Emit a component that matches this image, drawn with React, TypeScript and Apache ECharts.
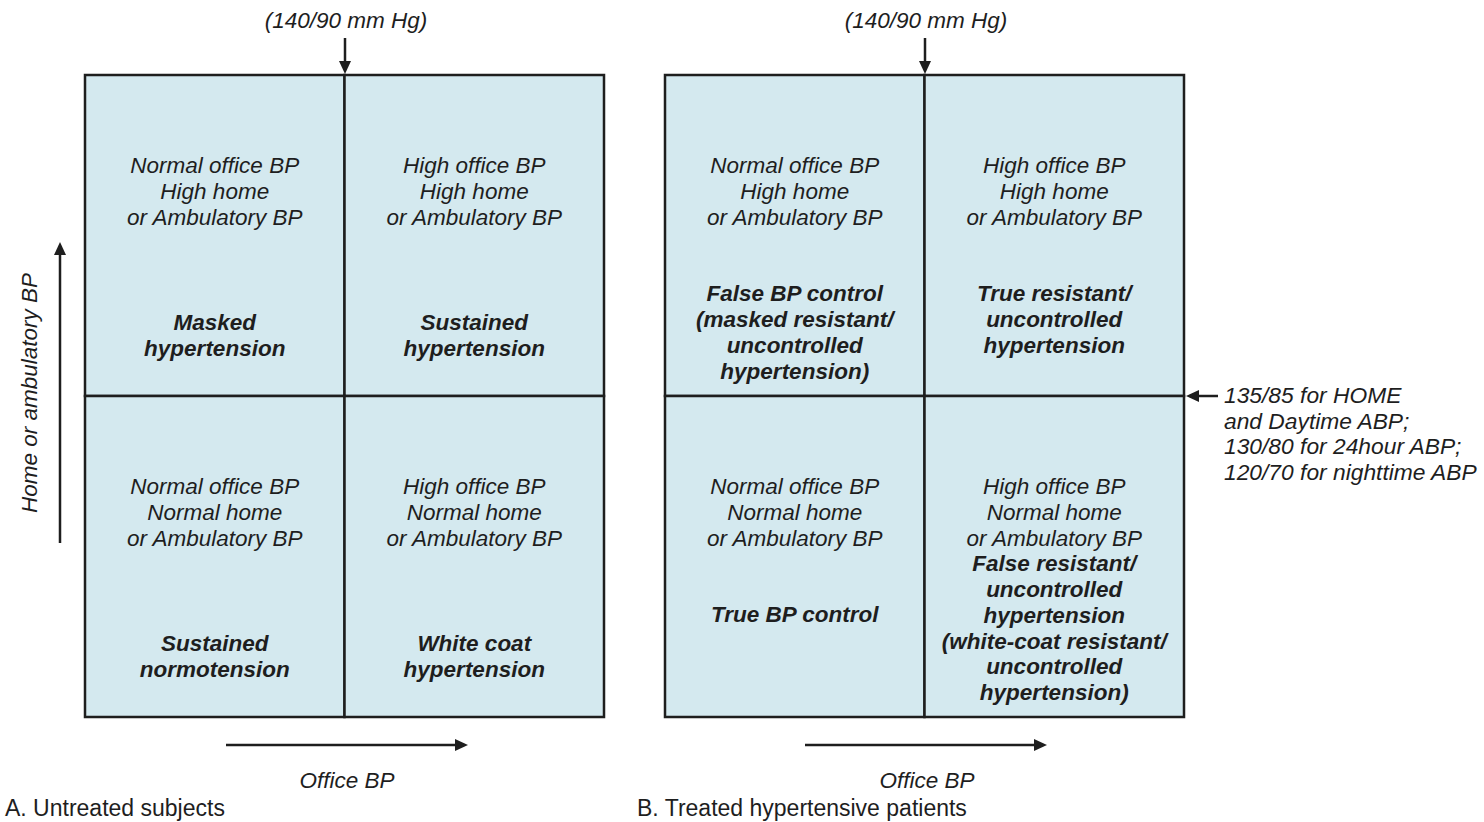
import React, { useEffect, useRef } from "react";
import * as echarts from "echarts";

// Quadrant layout (column 0 = normal office BP, row 1 = high home/ambulatory BP)
const quadrantCols = [0, 1, 0, 1];
const quadrantRows = [1, 1, 0, 0];

const descA = [
  ["Normal office BP", "High home", "or Ambulatory BP"],
  ["High office BP", "High home", "or Ambulatory BP"],
  ["Normal office BP", "Normal home", "or Ambulatory BP"],
  ["High office BP", "Normal home", "or Ambulatory BP"],
];
const labelsA = [
  ["Masked", "hypertension"],
  ["Sustained", "hypertension"],
  ["Sustained", "normotension"],
  ["White coat", "hypertension"],
];
const descB = descA;
const labelsB = [
  ["False BP control", "(masked resistant/", "uncontrolled", "hypertension)"],
  ["True resistant/", "uncontrolled", "hypertension"],
  ["True BP control"],
  [
    "False resistant/",
    "uncontrolled",
    "hypertension",
    "(white-coat resistant/",
    "uncontrolled",
    "hypertension)",
  ],
];

const officeThreshold = "(140/90 mm Hg)";
const outOfOfficeThreshold = [
  "135/85 for HOME",
  "and Daytime ABP;",
  "130/80 for 24hour ABP;",
  "120/70 for nighttime ABP",
];
const xAxisTitle = "Office BP";
const yAxisTitle = "Home or ambulatory BP";
const panelTitles = ["A. Untreated subjects", "B. Treated hypertensive patients"];

// layout only (first bold line offset from the cell top, px)
const boldOffsetA = [248, 248, 248, 248];
const boldOffsetB = [219, 219, 219, 168];

const FONT = "'Liberation Sans', Arial, Helvetica, sans-serif";
const INK = "#1e1e1e";
const FILL = "#d4e9ef";
const LH = 25.7;
const FS = 22.5;

function makeRender(desc: string[][], labels: string[][], boldOff: number[]) {
  return (params: any, api: any) => {
    const col = api.value(0);
    const row = api.value(1);
    const tl = api.coord([col, row + 1]);
    const sz = api.size([1, 1]);
    const i = params.dataIndex;
    const cx = tl[0] + sz[0] / 2;
    return {
      type: "group",
      children: [
        {
          type: "rect",
          shape: { x: tl[0], y: tl[1], width: sz[0], height: sz[1] },
          style: { fill: FILL, stroke: INK, lineWidth: 2.5 },
        },
        {
          type: "text",
          x: cx,
          y: tl[1] + 91 - LH / 2,
          style: {
            text: desc[i].join("\n"),
            fontFamily: FONT,
            fontSize: FS,
            fontStyle: "italic",
            fill: INK,
            align: "center",
            verticalAlign: "top",
            lineHeight: LH,
          },
        },
        {
          type: "text",
          x: cx,
          y: tl[1] + boldOff[i] - LH / 2,
          style: {
            text: labels[i].join("\n"),
            fontFamily: FONT,
            fontSize: FS,
            fontStyle: "italic",
            fontWeight: "bold",
            fill: INK,
            align: "center",
            verticalAlign: "top",
            lineHeight: LH,
          },
        },
      ],
    };
  };
}

function arrowLine(x1: number, y1: number, x2: number, y2: number) {
  const dx = x2 - x1;
  const dy = y2 - y1;
  const len = Math.sqrt(dx * dx + dy * dy);
  const ux = dx / len;
  const uy = dy / len;
  const headL = 13;
  const headW = 6;
  const bx = x2 - ux * headL;
  const by = y2 - uy * headL;
  return [
    {
      type: "line",
      shape: { x1, y1, x2: bx + ux * 2, y2: by + uy * 2 },
      style: { stroke: INK, lineWidth: 2.5 },
    },
    {
      type: "polygon",
      shape: {
        points: [
          [x2, y2],
          [bx - uy * headW, by + ux * headW],
          [bx + uy * headW, by - ux * headW],
        ],
      },
      style: { fill: INK },
    },
  ];
}

function txt(text: string, x: number, y: number, extra: any = {}) {
  return {
    type: "text",
    x,
    y,
    style: {
      text,
      fontFamily: FONT,
      fontSize: FS,
      fontStyle: "italic",
      fill: INK,
      align: "center",
      verticalAlign: "middle",
      ...extra,
    },
  };
}

export default function App() {
  const ref = useRef<HTMLDivElement>(null);
  useEffect(() => {
    if (!ref.current) return;
    const chart = echarts.init(ref.current, null, { renderer: "svg" });
    const graphics: any[] = [
      txt(officeThreshold, 346, 20),
      txt(officeThreshold, 926, 20),
      ...arrowLine(345, 38, 345, 74),
      ...arrowLine(925, 38, 925, 74),
      ...arrowLine(60, 543, 60, 242),
      {
        type: "text",
        x: 29,
        y: 393,
        rotation: Math.PI / 2,
        style: {
          text: yAxisTitle,
          fontFamily: FONT,
          fontSize: FS,
          fontStyle: "italic",
          fill: INK,
          align: "center",
          verticalAlign: "middle",
        },
      },
      ...arrowLine(226, 745, 468, 745),
      ...arrowLine(805, 745, 1047, 745),
      txt(xAxisTitle, 347, 780),
      txt(xAxisTitle, 927, 780),
      ...arrowLine(1218, 396, 1186, 396),
      {
        type: "text",
        x: 1224,
        y: 395 - LH / 2,
        style: {
          text: outOfOfficeThreshold.join("\n"),
          fontFamily: FONT,
          fontSize: 22.8,
          fontStyle: "italic",
          fill: INK,
          align: "left",
          verticalAlign: "top",
          lineHeight: LH,
        },
      },
      txt(panelTitles[0], 5, 808, { fontStyle: "normal", align: "left", fontSize: 23 }),
      txt(panelTitles[1], 637, 808, { fontStyle: "normal", align: "left", fontSize: 23 }),
    ];
    chart.setOption({
      animation: false,
      backgroundColor: "#ffffff",
      grid: [
        { left: 85, top: 75, width: 519, height: 642 },
        { left: 665, top: 75, width: 519, height: 642 },
      ],
      xAxis: [
        { type: "value", min: 0, max: 2, show: false, gridIndex: 0 },
        { type: "value", min: 0, max: 2, show: false, gridIndex: 1 },
      ],
      yAxis: [
        { type: "value", min: 0, max: 2, show: false, gridIndex: 0 },
        { type: "value", min: 0, max: 2, show: false, gridIndex: 1 },
      ],
      series: [
        {
          type: "custom",
          xAxisIndex: 0,
          yAxisIndex: 0,
          data: quadrantCols.map((c, i) => [c, quadrantRows[i]]),
          renderItem: makeRender(descA, labelsA, boldOffsetA),
        },
        {
          type: "custom",
          xAxisIndex: 1,
          yAxisIndex: 1,
          data: quadrantCols.map((c, i) => [c, quadrantRows[i]]),
          renderItem: makeRender(descB, labelsB, boldOffsetB),
        },
      ],
      graphic: graphics,
    });
    return () => chart.dispose();
  }, []);
  return (
    <div
      ref={ref}
      style={{ position: "fixed", left: 0, top: 0, width: 1484, height: 822 }}
    />
  );
}
